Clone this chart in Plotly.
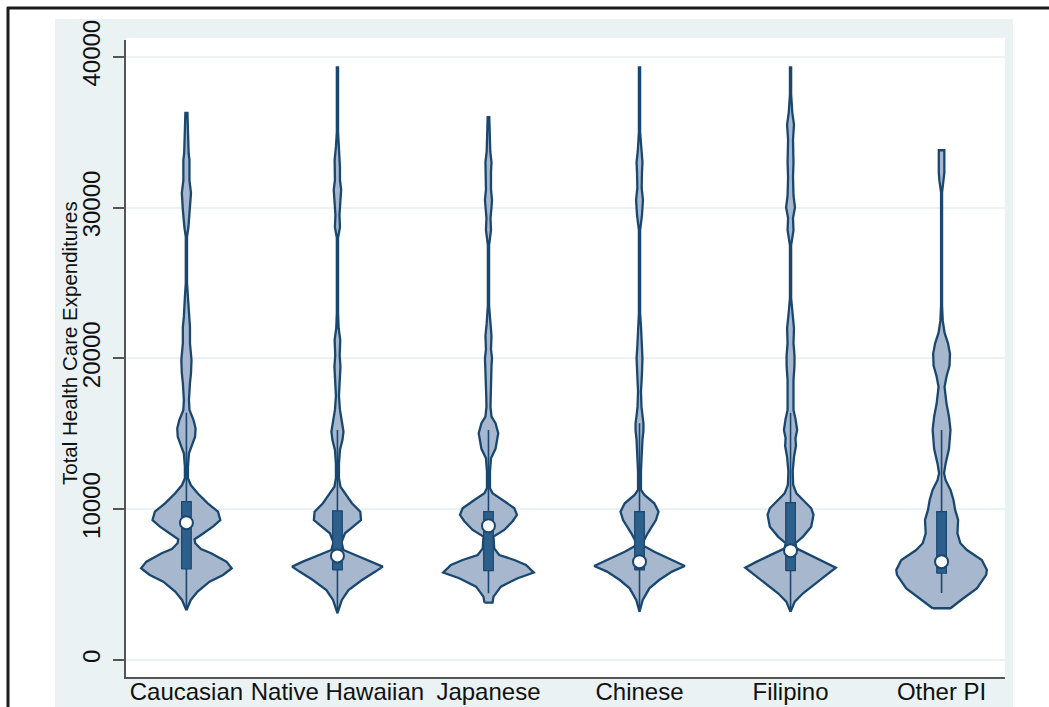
import numpy as np
import plotly.graph_objects as go

# ---- data -----------------------------------------------------------------
categories = ["Caucasian", "Native Hawaiian", "Japanese", "Chinese", "Filipino", "Other PI"]

# kernel density profiles: expenditure levels and density (arbitrary units)
cau_y = [3300, 3980, 4530, 5190, 5640, 6080, 6520, 7075, 7360, 7740, 8000, 8290, 8840, 9280, 9830,
         10390, 11050, 11600, 12050, 12800, 13700, 14140, 14800, 15360, 15900, 16580, 17240, 18370,
         19000, 19890, 20560, 21000, 22080, 22750, 24070, 25000, 28050, 28710, 29840, 30970, 31800,
         32290, 33150, 33600, 34950, 36270]
cau_d = [0, 4.3, 11, 22.7, 36, 44.5, 39.3, 24.3, 14.3, 8.7, 8, 14.3, 26, 33.3, 31,
         21, 11, 4.3, 1.5, 1.5, 2.5, 5, 8.5, 9, 7, 3, 2.5, 3.5,
         4.5, 5, 4, 3.5, 3.5, 2.5, 1.5, 0.6, 0.6, 2, 3.5, 4.5, 3,
         3, 3, 2.2, 1.5, 1.0]

nh_y = [3100, 3980, 4640, 5300, 5860, 6190, 6520, 6960, 7290, 7800, 8400, 8950, 9280, 9830, 10390,
        11050, 11490, 12050, 13000, 13930, 14600, 15140, 15800, 16580, 17500, 18600, 19450, 20200,
        21220, 22000, 23000, 28000, 28700, 29500, 30500, 31170, 31830, 32690, 33150, 34020, 35000, 39300]
nh_d = [0, 4.4, 11, 24.4, 37.7, 45, 34.4, 17.7, 6, 4, 7.5, 17.7, 23.4, 22.7, 14.4,
        7.7, 3, 1.5, 1.5, 2.5, 5, 6, 4.5, 2.5, 1.5, 2.5, 3, 2.2,
        2.8, 1.2, 0.6, 0.6, 2.5, 2, 3, 3.7, 2.5, 2.5, 2.8, 1.5, 0.6, 0.6]

jp_y = [3800, 4200, 4860, 5420, 5790, 6300, 6630, 6960, 7400, 8180, 8620, 9200, 9620, 10060, 10610,
        11050, 11390, 12500, 13370, 14000, 15030, 15700, 16130, 16800, 17500, 18570, 19500, 20000,
        20600, 21500, 22300, 23500, 27500, 28500, 29300, 30000, 30500, 31200, 32300, 33000, 33700,
        35000, 36000]
jp_d = [4, 5, 12.3, 29, 45, 37.3, 25.7, 10.7, 5.7, 5, 15.7, 24, 28.3, 25.7, 14,
        4, 1.5, 1.5, 2.5, 7, 9.7, 7, 3, 2, 2.2, 2.5, 3, 3.5,
        2.5, 3, 1.8, 0.6, 0.6, 2.5, 2, 3, 3.5, 2.5, 2.5, 3, 1.8,
        1.0, 0.8]

ch_y = [3200, 3980, 4750, 5300, 5860, 6230, 6630, 7180, 7580, 7740, 8400, 9280, 9830, 10390, 10940,
        11270, 12500, 13300, 14590, 15200, 15700, 16200, 16780, 17800, 19000, 20000, 20800, 22000,
        23000, 28500, 29500, 30500, 31300, 32300, 33000, 33700, 35000, 39300]
ch_d = [0, 3.3, 10, 20, 33, 46, 33, 15, 4, 3, 8.3, 16.7, 19.3, 15, 5,
        1.5, 1.5, 2, 3, 4, 4, 3, 2, 1.5, 2.5, 3, 2.2, 1.6,
        0.6, 0.6, 2.5, 3.5, 2.2, 2.5, 3, 1.8, 0.6, 0.6]

fil_y = [3200, 3870, 4420, 4750, 5520, 6120, 6520, 7075, 7400, 7740, 8180, 8840, 9620, 10060, 10610,
         11050, 11600, 12500, 13460, 14200, 14700, 15250, 16000, 16580, 17500, 18570, 19500, 20200,
         21000, 22000, 22800, 24000, 27500, 28500, 29300, 30000, 30800, 32000, 33000, 33700, 34500,
         35500, 36300, 37500, 39300]
fil_d = [0, 4.3, 12.7, 19.3, 34.3, 46, 34.3, 16, 6, 5, 12.7, 21, 23.3, 21, 12.7,
         6, 2.7, 2.2, 3.5, 5.5, 5, 6.7, 5, 3, 3, 3, 4, 4,
         3, 3.5, 2.2, 0.6, 0.6, 3, 2.5, 4.5, 3, 2.5, 3, 3, 2.5,
         3.5, 1.8, 0.6, 0.6]

opi_y = [3430, 4090, 4750, 5640, 5970, 6630, 7290, 7740, 8400, 9280, 9950, 10610, 11270, 11940, 12380,
         13000, 14000, 15250, 16130, 17000, 18100, 18800, 19500, 20300, 21000, 21700, 22500, 23500,
         31000, 31800, 32300, 33800]
opi_d = [9, 22, 35.6, 45, 45.7, 40.6, 25.6, 19, 16, 16.7, 13.7, 12, 9, 4, 2.5,
         4, 7.5, 9, 7.5, 5, 3, 5, 8, 8.5, 6.5, 3, 1.2, 0.5,
         0.5, 2.2, 2.8, 2.8]

levels = [cau_y, nh_y, jp_y, ch_y, fil_y, opi_y]
densities = [cau_d, nh_d, jp_d, ch_d, fil_d, opi_d]

# box-plot summaries
q1 = [6030, 5970, 5920, 5970, 5920, 5750]
median = [9100, 6900, 8900, 6520, 7250, 6520]
q3 = [10500, 9890, 9830, 9830, 10430, 9830]
lower_adj = [3300, 3100, 4420, 3300, 3300, 4440]
upper_adj = [16400, 15250, 15250, 15700, 16380, 15250]

y_ticks = [0, 10000, 20000, 30000, 40000]
y_tick_labels = ["0", "10000", "20000", "30000", "40000"]

# ---- styling ----------------------------------------------------------------
NAVY = "#1a476f"
BOX_FILL = "#2d5f8c"
VIOLIN_FILL = "rgba(162,180,203,0.95)"
BG_LIGHT = "#eaf2f3"
FONT = "Liberation Sans, Arial, Helvetica, sans-serif"
HALF_WIDTH = 0.30   # widest violin half-width, in category units
BOX_HALF = 0.032

fig = go.Figure()

for i, (ys, ds) in enumerate(zip(levels, densities)):
    c = i + 1
    ys = np.asarray(ys, dtype=float)
    ds = np.asarray(ds, dtype=float)
    w = ds / ds.max() * HALF_WIDTH
    px = np.concatenate([c - w, (c + w)[::-1], [c - w[0]]])
    py = np.concatenate([ys, ys[::-1], [ys[0]]])
    fig.add_trace(go.Scatter(x=px, y=py, mode="lines", fill="toself",
                             fillcolor=VIOLIN_FILL,
                             line=dict(color=NAVY, width=2.3), hoverinfo="skip",
                             showlegend=False))
    # adjacent-value line
    fig.add_trace(go.Scatter(x=[c, c], y=[lower_adj[i], upper_adj[i]], mode="lines",
                             line=dict(color=NAVY, width=1.6), hoverinfo="skip",
                             showlegend=False))
    # interquartile box
    fig.add_trace(go.Scatter(x=[c - BOX_HALF, c + BOX_HALF, c + BOX_HALF, c - BOX_HALF, c - BOX_HALF],
                             y=[q1[i], q1[i], q3[i], q3[i], q1[i]], mode="lines",
                             fill="toself", fillcolor=BOX_FILL,
                             line=dict(color=NAVY, width=1.2), hoverinfo="skip",
                             showlegend=False))
    # median marker
    fig.add_trace(go.Scatter(x=[c], y=[median[i]], mode="markers",
                             marker=dict(size=13, color="white",
                                         line=dict(color=NAVY, width=2)),
                             hoverinfo="skip", showlegend=False))

# plot area spans x 126..1005 px and y 40..677 px
L, R, T, B = 126, 1005, 40, 677
W, H = R - L, B - T


def px_x(p):
    return (p - L) / W


def px_y(q):
    return (B - q) / H


shapes = [
    dict(type="rect", xref="paper", yref="paper", x0=px_x(55), x1=px_x(1013),
         y0=px_y(730), y1=px_y(19), fillcolor=BG_LIGHT, line=dict(width=0), layer="below"),
    dict(type="rect", xref="paper", yref="paper", x0=0, x1=1, y0=0, y1=px_y(38),
         fillcolor="white", line=dict(width=0), layer="below"),
    dict(type="line", xref="paper", yref="paper", x0=px_x(8), x1=px_x(8),
         y0=px_y(7), y1=px_y(730), line=dict(color="#1c1c1c", width=3)),
    dict(type="line", xref="paper", yref="paper", x0=px_x(7), x1=px_x(1060),
         y0=px_y(8), y1=px_y(8), line=dict(color="#1c1c1c", width=3)),
]

fig.update_layout(
    width=1049, height=707,
    margin=dict(l=L, r=1049 - R, t=T, b=707 - B, pad=0, autoexpand=False),
    paper_bgcolor="white", plot_bgcolor="white",
    font=dict(family=FONT, color="#111111"),
    shapes=shapes,
    xaxis=dict(range=[0.6, 6.42], tickmode="array", tickvals=list(range(1, 7)),
               ticktext=categories, tickangle=0, ticklabelstandoff=-8,
               tickfont=dict(size=24, family=FONT, color="#111111"),
               showgrid=False, zeroline=False, showline=True, linecolor="#555555",
               linewidth=2, ticks="", automargin=False, fixedrange=True),
    yaxis=dict(range=[-1130, 41110], tickmode="array", tickvals=y_ticks,
               ticktext=y_tick_labels, ticklabelstandoff=3,
               tickangle=-90, tickfont=dict(size=24, family=FONT, color="#111111"),
               ticks="outside", ticklen=11, tickwidth=1.5, tickcolor="#555555",
               showline=True, linecolor="#555555", linewidth=2,
               showgrid=True, gridcolor=BG_LIGHT, gridwidth=2, zeroline=False,
               automargin=False, fixedrange=True),
    annotations=[dict(text="Total Health Care Expenditures", xref="paper", yref="paper",
                      x=px_x(69), y=px_y(343), textangle=-90, showarrow=False,
                      xanchor="center", yanchor="middle",
                      font=dict(size=20.5, family=FONT, color="#111111"))],
)

fig.write_html("out.html")
